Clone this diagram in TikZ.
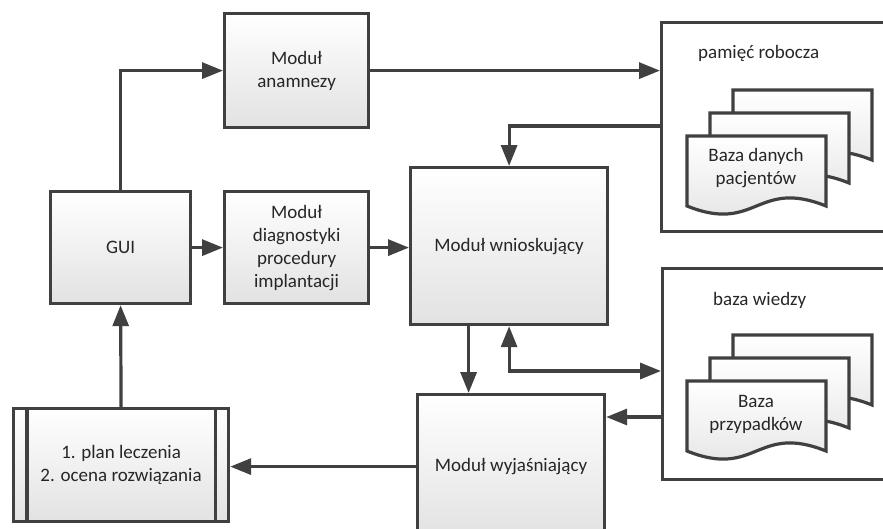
\documentclass[tikz,border=0pt]{standalone}
\usepackage{fontspec}
\setmainfont{Carlito}
\usetikzlibrary{arrows.meta,shadows}
\definecolor{ln}{HTML}{404040}
\definecolor{fillbot}{HTML}{E2E2E2}
\definecolor{txt}{HTML}{262626}
\newcommand\stackdoc[2]{%
  \foreach \k in {2,1,0}{
    \pgfmathsetmacro\xa{#1+23*\k}
    \pgfmathsetmacro\ya{#2-23*\k}
    \pgfmathsetmacro\xb{\xa+139}
    \pgfmathsetmacro\xm{\xa+69.5}
    \pgfmathsetmacro\yc{\ya+70}
    \pgfmathsetmacro\ycu{\yc-28}
    \pgfmathsetmacro\ycd{\yc+28}
    \draw[docst] (\xa,\ya) -- (\xb,\ya) -- (\xb,\yc) .. controls (\xm,\ycu) and (\xm,\ycd) .. (\xa,\yc) -- cycle;
  }%
}
\begin{document}
\begin{tikzpicture}[x=1pt,y=-1pt,
  txtf/.style={font=\fontsize{19}{23}\selectfont, text=txt},
  box/.style={draw=ln, line width=3.2pt, top color=white, bottom color=fillbot,
    align=center, txtf, inner sep=0pt, anchor=north west,
    drop shadow={shadow xshift=1.5pt, shadow yshift=-1.5pt, opacity=0.2}},
  cont/.style={draw=ln, line width=3.2pt, fill=white, anchor=north west, inner sep=0pt,
    drop shadow={shadow xshift=1.5pt, shadow yshift=-1.5pt, opacity=0.2}},
  docst/.style={draw=ln, line width=3.2pt, top color=white, bottom color=fillbot, line join=miter},
  arr/.style={draw=ln, line width=3.2pt, -{Triangle[length=21pt,width=16pt]}},
  arrboth/.style={draw=ln, line width=3.2pt, {Triangle[length=21pt,width=16pt]}-{Triangle[length=21pt,width=16pt]}}]
\useasboundingbox (0,0) rectangle (883,528);
\clip (0,0) rectangle (883,528);

% containers
\node[cont, minimum width=260pt, minimum height=209pt] (pam) at (660,21) {};
\node[cont, minimum width=260pt, minimum height=211pt] (baza) at (661,267) {};
\node[txtf, anchor=west, inner sep=0pt] (pamt) at (698,53) {pamięć robocza};
\node[txtf, anchor=west, inner sep=0pt] (bazat) at (713,300) {baza wiedzy};

\stackdoc{687}{136}
\node[txtf, align=center, inner sep=0pt] (bdp) at (756,168) {Baza danych\\pacjentów};
\stackdoc{687}{381}
\node[txtf, align=center, inner sep=0pt] (bp) at (756,414) {Baza\\przypadków};

% boxes
\node[box, minimum width=144pt, minimum height=114pt] (anam) at (223,12) {Moduł\\anamnezy};
\node[box, minimum width=140pt, minimum height=112pt] (gui) at (49,190) {GUI};
\node[box, minimum width=144pt, minimum height=112pt] (diag) at (223,190) {Moduł\\diagnostyki\\procedury\\implantacji};
\node[box, minimum width=197pt, minimum height=157pt] (wnio) at (409,166) {Moduł wnioskujący};
\node[box, minimum width=187pt, minimum height=144pt] (wyj) at (416,393) {Moduł wyjaśniający};
\node[box, minimum width=215pt, minimum height=113pt] (plan) at (12,407) {1. plan leczenia\\2. ocena rozwiązania};
\draw[draw=ln, line width=3.2pt] ([xshift=15pt]plan.north west) -- ([xshift=15pt]plan.south west);
\draw[draw=ln, line width=3.2pt] ([xshift=-15pt]plan.north east) -- ([xshift=-15pt]plan.south east);

% connectors
\draw[arr] (gui.north) |- (anam.west);
\draw[arr] (anam.east) -- (anam.east -| pam.west);
\coordinate (p1) at (pam.west |- 0,126);
\draw[arr] (p1) -| (wnio.north);
\draw[arr] (gui.east) -- (diag.west);
\draw[arr] (diag.east) -- (diag.east -| wnio.west);
\draw[arr] ([xshift=-40.5pt]wnio.south) -- ([xshift=-40.5pt]wnio.south |- wyj.north);
\coordinate (b2) at (baza.west |- 0,371);
\draw[arrboth] (wnio.south) |- (b2);
\coordinate (b1) at (baza.west |- 0,417);
\draw[arr] (b1) -- (b1 -| wyj.east);
\draw[arr] (wyj.west) -- (wyj.west -| plan.east);
\draw[arr] (plan.north) -- (gui.south);
\end{tikzpicture}
\end{document}
